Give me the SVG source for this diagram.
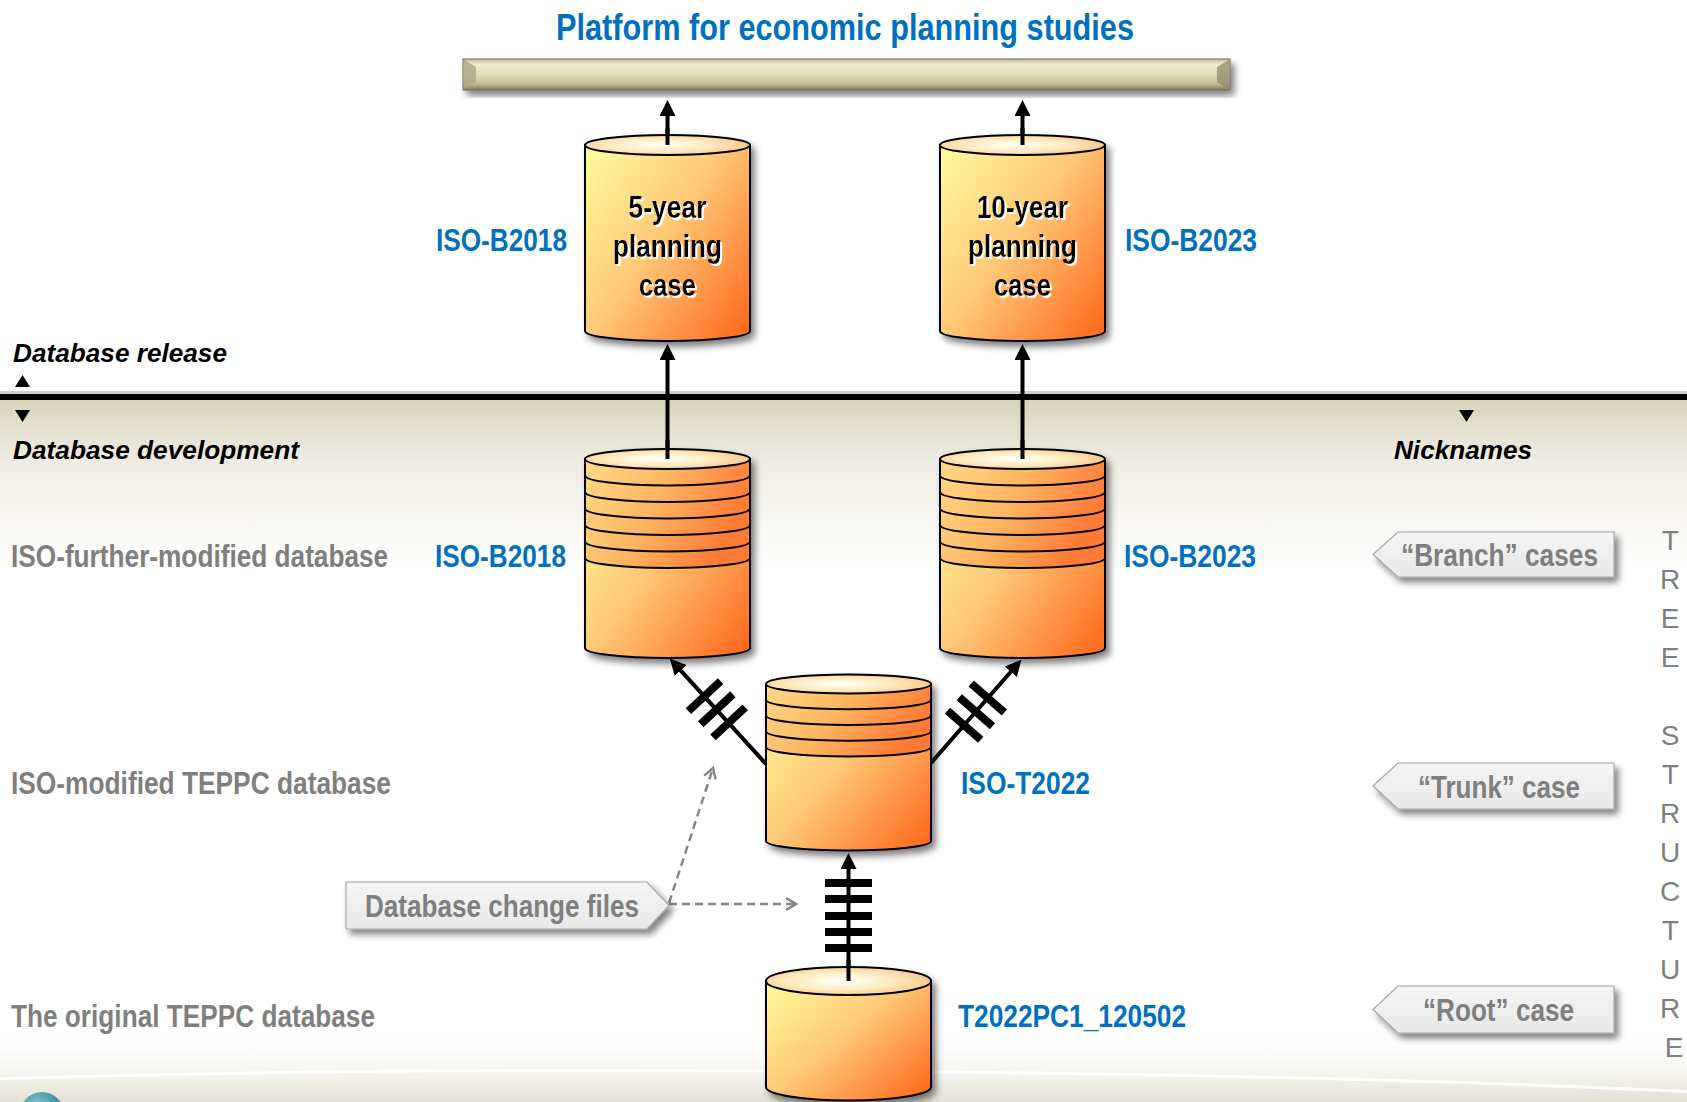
<svg xmlns="http://www.w3.org/2000/svg" width="1687" height="1102" viewBox="0 0 1687 1102">
  <defs>
    <style>
      .nar{font-family:"Liberation Sans",Arial,sans-serif;font-weight:bold;font-size:32px}
      .blue{fill:#0070C0}
      .gray{fill:#7F7F7F}
      .head{font-family:"Liberation Sans",Arial,sans-serif;font-weight:bold;font-style:italic;font-size:26px;fill:#000}
      .body{fill:url(#bodyGrad);stroke:#000;stroke-width:2}
      .band{fill:url(#bandGrad);stroke:#000;stroke-width:2}
      .ring{fill:none;stroke:#000;stroke-width:2}
      .top{fill:url(#topGrad);stroke:#000;stroke-width:2}
      .ctext{fill:#000;text-anchor:middle}
      .conn{stroke:#000;stroke-width:4;fill:none}
      .hash{stroke:#000;stroke-width:8}
      .dash{stroke:#858585;stroke-width:2.5;stroke-dasharray:8 5;fill:none}
      .call{fill:url(#callGrad);stroke:#A6A6A6;stroke-width:1.2}
      .tree{font-family:"Liberation Sans",Arial,sans-serif;font-size:28px;fill:#7F7F7F;text-anchor:middle}
    </style>
    <linearGradient id="bodyGrad" x1="0" y1="0.1" x2="1" y2="0.95">
      <stop offset="0" stop-color="#FFF89A"/>
      <stop offset="0.45" stop-color="#FFC877"/>
      <stop offset="1" stop-color="#FF681C"/>
    </linearGradient>
    <linearGradient id="bandGrad" x1="0" y1="0" x2="1" y2="0.35">
      <stop offset="0" stop-color="#FFDA88"/>
      <stop offset="0.5" stop-color="#FFB562"/>
      <stop offset="1" stop-color="#FF7A36"/>
    </linearGradient>
    <radialGradient id="topGrad" cx="0.45" cy="0.5" r="0.62">
      <stop offset="0" stop-color="#FFFFF6"/>
      <stop offset="0.5" stop-color="#FFECC2"/>
      <stop offset="1" stop-color="#F7BE82"/>
    </radialGradient>
    <linearGradient id="barGrad" x1="0" y1="0" x2="0" y2="1">
      <stop offset="0" stop-color="#C2BE97"/>
      <stop offset="0.18" stop-color="#EFEDD0"/>
      <stop offset="0.5" stop-color="#E0DCB5"/>
      <stop offset="0.8" stop-color="#C2BE96"/>
      <stop offset="1" stop-color="#7E7A58"/>
    </linearGradient>
    <linearGradient id="callGrad" x1="0" y1="0" x2="0" y2="1">
      <stop offset="0" stop-color="#F5F5F5"/>
      <stop offset="1" stop-color="#E8E8E8"/>
    </linearGradient>
    <linearGradient id="devBg" x1="0" y1="0" x2="0" y2="1">
      <stop offset="0" stop-color="#D8D4BA"/>
      <stop offset="0.35" stop-color="#EEECE2"/>
      <stop offset="1" stop-color="#FFFFFF"/>
    </linearGradient>
    <linearGradient id="footBg" x1="0" y1="0" x2="0" y2="1">
      <stop offset="0" stop-color="#FFFFFF" stop-opacity="0"/>
      <stop offset="1" stop-color="#E3E1D2"/>
    </linearGradient>
    <radialGradient id="tealGrad" cx="0.4" cy="0.3" r="0.7">
      <stop offset="0" stop-color="#7FC3CC"/>
      <stop offset="1" stop-color="#23798A"/>
    </radialGradient>
    <filter id="sh" x="-15%" y="-15%" width="140%" height="140%">
      <feGaussianBlur in="SourceAlpha" stdDeviation="3.5"/>
      <feOffset dx="4" dy="5"/>
      <feComponentTransfer><feFuncA type="linear" slope="0.5"/></feComponentTransfer>
      <feMerge><feMergeNode/><feMergeNode in="SourceGraphic"/></feMerge>
    </filter>
    <filter id="ts" x="-10%" y="-20%" width="120%" height="150%">
      <feOffset in="SourceAlpha" dx="1.5" dy="1.5" result="o"/>
      <feFlood flood-color="#FFFFFF"/>
      <feComposite in2="o" operator="in"/>
      <feGaussianBlur stdDeviation="0.7"/>
      <feMerge><feMergeNode/><feMergeNode in="SourceGraphic"/></feMerge>
    </filter>
    <marker id="ah" markerWidth="16" markerHeight="16" refX="1" refY="8" orient="auto" markerUnits="userSpaceOnUse">
      <path d="M0,0 L16,8 L0,16 Z" fill="#000"/>
    </marker>
    <marker id="oh" markerWidth="14" markerHeight="14" refX="11" refY="7" orient="auto" markerUnits="userSpaceOnUse">
      <path d="M1,1 L11,7 L1,13" fill="none" stroke="#858585" stroke-width="2.5"/>
    </marker>
  </defs>

  <!-- background -->
  <rect x="0" y="0" width="1687" height="1102" fill="#FFFFFF"/>
  <rect x="0" y="400" width="1687" height="170" fill="url(#devBg)"/>
  <rect x="0" y="1025" width="1687" height="77" fill="url(#footBg)"/>
  <path d="M-10,1079 C400,1066 1150,1066 1700,1092" fill="none" stroke="#FFFFFF" stroke-width="3" opacity="0.95"/>
  <circle cx="42" cy="1114" r="22" fill="url(#tealGrad)"/>

  <!-- release / development divider -->
  <g id="divider">
    <rect x="0" y="391" width="1687" height="3" fill="#CFCFCF"/>
    <rect x="0" y="394" width="1687" height="6" fill="#000"/>
    <polygon points="15,387 30,387 22.5,375" fill="#000"/>
    <polygon points="15,410 30,410 22.5,422" fill="#000"/>
    <polygon points="1459,410 1474,410 1466.5,422" fill="#000"/>
  </g>

  <!-- headings -->
  <g id="headings">
    <text class="nar blue" style="font-size:37px" x="556" y="40" textLength="578" lengthAdjust="spacingAndGlyphs">Platform for economic planning studies</text>
    <text class="head" x="13" y="362" textLength="214" lengthAdjust="spacingAndGlyphs">Database release</text>
    <text class="head" x="13" y="459" textLength="286" lengthAdjust="spacingAndGlyphs">Database development</text>
    <text class="head" x="1394" y="459" textLength="138" lengthAdjust="spacingAndGlyphs">Nicknames</text>
  </g>

  <!-- platform bar -->
  <g id="platform" filter="url(#sh)">
    <rect x="463" y="59" width="767" height="31" fill="url(#barGrad)" stroke="#6E6B4E" stroke-width="1"/>
    <polygon points="463.5,59.5 476,67 476,82 463.5,89.5" fill="#A8A482" opacity="0.75"/>
    <polygon points="1229.5,59.5 1217,67 1217,82 1229.5,89.5" fill="#8F8B6A" opacity="0.75"/>
  </g>

  <!-- level labels -->
  <g id="level-labels">
    <text class="nar gray" transform="translate(11,567) scale(0.82,1)" x="0" y="0" textLength="460" lengthAdjust="spacingAndGlyphs">ISO-further-modified database</text>
    <text class="nar gray" x="11" y="794" textLength="380" lengthAdjust="spacingAndGlyphs">ISO-modified TEPPC database</text>
    <text class="nar gray" x="11" y="1027" textLength="364" lengthAdjust="spacingAndGlyphs">The original TEPPC database</text>
  </g>

  <!-- connectors -->
  <g id="connectors">
    <line class="conn" x1="667.5" y1="145" x2="667.5" y2="115" marker-end="url(#ah)"/>
    <line class="conn" x1="1022.5" y1="145" x2="1022.5" y2="115" marker-end="url(#ah)"/>
    <line class="conn" x1="667.5" y1="459" x2="667.5" y2="359" marker-end="url(#ah)"/>
    <line class="conn" x1="1022.5" y1="459" x2="1022.5" y2="359" marker-end="url(#ah)"/>
    <line class="conn" x1="766" y1="764" x2="679.9" y2="669.7" marker-end="url(#ah)"/>
    <line class="conn" x1="931" y1="763" x2="1011.5" y2="671" marker-end="url(#ah)"/>
    <line class="conn" x1="848.5" y1="981" x2="848.5" y2="868" marker-end="url(#ah)"/>
    <!-- change markers -->
    <line class="hash" x1="688.4" y1="711.1" x2="720.6" y2="681.1"/>
    <line class="hash" x1="700.7" y1="724.2" x2="732.9" y2="694.2"/>
    <line class="hash" x1="713.0" y1="737.4" x2="745.2" y2="707.4"/>
    <line class="hash" x1="971.2" y1="683.6" x2="1004.4" y2="712.6"/>
    <line class="hash" x1="959.3" y1="697.2" x2="992.5" y2="726.2"/>
    <line class="hash" x1="947.5" y1="710.7" x2="980.7" y2="739.7"/>
    <line class="hash" x1="825" y1="883" x2="872" y2="883"/>
    <line class="hash" x1="825" y1="899" x2="872" y2="899"/>
    <line class="hash" x1="825" y1="916" x2="872" y2="916"/>
    <line class="hash" x1="825" y1="932" x2="872" y2="932"/>
    <line class="hash" x1="825" y1="948" x2="872" y2="948"/>
    <!-- change files feed -->
    <line class="dash" x1="669" y1="904" x2="796" y2="904" marker-end="url(#oh)"/>
    <line class="dash" x1="669" y1="903" x2="713" y2="768" marker-end="url(#oh)"/>
  </g>

  <!-- 5-year planning case -->
  <g id="case-5yr">
    <g filter="url(#sh)">
      <path class="body" d="M585,145 V331 A82.5,10 0 0 0 750,331 V145 Z"/>
      <ellipse class="top" cx="667.5" cy="145" rx="82.5" ry="10"/>
    </g>
    <line class="conn" x1="667.5" y1="145" x2="667.5" y2="128"/>
    <g class="nar ctext" filter="url(#ts)">
      <text x="667.5" y="218" textLength="78" lengthAdjust="spacingAndGlyphs">5-year</text>
      <text x="667.5" y="257" textLength="109" lengthAdjust="spacingAndGlyphs">planning</text>
      <text x="667.5" y="296" textLength="57" lengthAdjust="spacingAndGlyphs">case</text>
    </g>
    <text class="nar blue" x="436" y="251" textLength="131" lengthAdjust="spacingAndGlyphs">ISO-B2018</text>
  </g>

  <!-- 10-year planning case -->
  <g id="case-10yr">
    <g filter="url(#sh)">
      <path class="body" d="M940,145 V331 A82.5,10 0 0 0 1105,331 V145 Z"/>
      <ellipse class="top" cx="1022.5" cy="145" rx="82.5" ry="10"/>
    </g>
    <line class="conn" x1="1022.5" y1="145" x2="1022.5" y2="128"/>
    <g class="nar ctext" filter="url(#ts)">
      <text x="1022.5" y="218" textLength="91" lengthAdjust="spacingAndGlyphs">10-year</text>
      <text x="1022.5" y="257" textLength="109" lengthAdjust="spacingAndGlyphs">planning</text>
      <text x="1022.5" y="296" textLength="57" lengthAdjust="spacingAndGlyphs">case</text>
    </g>
    <text class="nar blue" x="1125" y="251" textLength="132" lengthAdjust="spacingAndGlyphs">ISO-B2023</text>
  </g>

  <!-- ISO-B2018 branch database -->
  <g id="branch-b2018">
    <g filter="url(#sh)">
      <path class="body" d="M585,459 V648 A82.5,10 0 0 0 750,648 V459 Z"/>
      <path class="band" d="M585,459 V558 A82.5,10 0 0 0 750,558 V459 Z"/>
      <path class="ring" d="M585,475.5 A82.5,10 0 0 0 750,475.5 M585,492 A82.5,10 0 0 0 750,492 M585,508.5 A82.5,10 0 0 0 750,508.5 M585,525 A82.5,10 0 0 0 750,525 M585,541.5 A82.5,10 0 0 0 750,541.5"/>
      <ellipse class="top" cx="667.5" cy="459" rx="82.5" ry="10"/>
    </g>
    <line class="conn" x1="667.5" y1="459" x2="667.5" y2="440"/>
    <text class="nar blue" x="435" y="567" textLength="131" lengthAdjust="spacingAndGlyphs">ISO-B2018</text>
  </g>

  <!-- ISO-B2023 branch database -->
  <g id="branch-b2023">
    <g filter="url(#sh)">
      <path class="body" d="M940,459 V648 A82.5,10 0 0 0 1105,648 V459 Z"/>
      <path class="band" d="M940,459 V558 A82.5,10 0 0 0 1105,558 V459 Z"/>
      <path class="ring" d="M940,475.5 A82.5,10 0 0 0 1105,475.5 M940,492 A82.5,10 0 0 0 1105,492 M940,508.5 A82.5,10 0 0 0 1105,508.5 M940,525 A82.5,10 0 0 0 1105,525 M940,541.5 A82.5,10 0 0 0 1105,541.5"/>
      <ellipse class="top" cx="1022.5" cy="459" rx="82.5" ry="10"/>
    </g>
    <line class="conn" x1="1022.5" y1="459" x2="1022.5" y2="440"/>
    <text class="nar blue" x="1124" y="567" textLength="132" lengthAdjust="spacingAndGlyphs">ISO-B2023</text>
  </g>

  <!-- ISO-T2022 trunk database -->
  <g id="trunk-t2022">
    <g filter="url(#sh)">
      <path class="body" d="M766,684 V841 A82.5,9.5 0 0 0 931,841 V684 Z"/>
      <path class="band" d="M766,684 V747 A82.5,9.5 0 0 0 931,747 V684 Z"/>
      <path class="ring" d="M766,699.75 A82.5,9.5 0 0 0 931,699.75 M766,715.5 A82.5,9.5 0 0 0 931,715.5 M766,731.25 A82.5,9.5 0 0 0 931,731.25"/>
      <ellipse class="top" cx="848.5" cy="684" rx="82.5" ry="9.5"/>
    </g>
    <text class="nar blue" x="961" y="794" textLength="129" lengthAdjust="spacingAndGlyphs">ISO-T2022</text>
  </g>

  <!-- T2022PC1_120502 root database -->
  <g id="root-t2022pc1">
    <g filter="url(#sh)">
      <path class="body" d="M766,981 V1087 A82.5,13.5 0 0 0 931,1087 V981 Z"/>
      <ellipse class="top" cx="848.5" cy="981" rx="82.5" ry="14"/>
    </g>
    <line class="conn" x1="848.5" y1="981" x2="848.5" y2="960"/>
    <text class="nar blue" x="958" y="1027" textLength="228" lengthAdjust="spacingAndGlyphs">T2022PC1_120502</text>
  </g>

  <!-- callouts -->
  <g id="change-files">
    <polygon class="call" filter="url(#sh)" points="346,882 647,882 669,905.5 647,929 346,929"/>
    <text class="nar gray" x="365" y="917" textLength="274" lengthAdjust="spacingAndGlyphs">Database change files</text>
  </g>
  <g id="nick-branch">
    <polygon class="call" filter="url(#sh)" points="1373,554.5 1398,532 1614,532 1614,577 1398,577"/>
    <text class="nar gray" x="1401" y="566" textLength="197" lengthAdjust="spacingAndGlyphs">“Branch” cases</text>
  </g>
  <g id="nick-trunk">
    <polygon class="call" filter="url(#sh)" points="1373,786 1398,763 1614,763 1614,809 1398,809"/>
    <text class="nar gray" x="1418" y="797.5" textLength="162" lengthAdjust="spacingAndGlyphs">“Trunk” case</text>
  </g>
  <g id="nick-root">
    <polygon class="call" filter="url(#sh)" points="1373,1009.5 1398,986 1614,986 1614,1033 1398,1033"/>
    <text class="nar gray" x="1423" y="1021" textLength="151" lengthAdjust="spacingAndGlyphs">“Root” case</text>
  </g>

  <!-- vertical caption -->
  <text id="tree-structure" class="tree">
    <tspan x="1674" y="550">T</tspan>
    <tspan x="1674" y="589">R</tspan>
    <tspan x="1674" y="628">E</tspan>
    <tspan x="1674" y="667">E</tspan>
    <tspan x="1674" y="745">S</tspan>
    <tspan x="1674" y="784">T</tspan>
    <tspan x="1674" y="823">R</tspan>
    <tspan x="1674" y="862">U</tspan>
    <tspan x="1674" y="901">C</tspan>
    <tspan x="1674" y="940">T</tspan>
    <tspan x="1674" y="979">U</tspan>
    <tspan x="1674" y="1018">R</tspan>
    <tspan x="1674" y="1057">E</tspan>
  </text>
</svg>
